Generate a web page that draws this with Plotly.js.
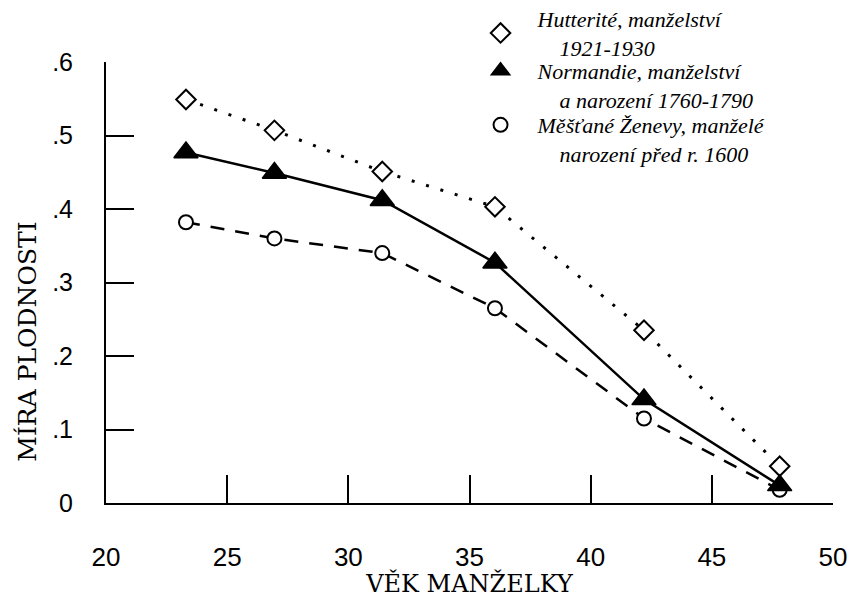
<!DOCTYPE html>
<html><head><meta charset="utf-8">
<script src="https://cdn.plot.ly/plotly-3.0.1.min.js"></script>
<style>body{margin:0;background:#fff}#chart{width:854px;height:598px}</style>
</head><body><div id="chart"></div>
<script>
// Data
const ages = [23.3, 26.95, 31.4, 36.05, 42.2, 47.8];
const hutterite = [0.549, 0.507, 0.451, 0.403, 0.235, 0.050];
const normandie = [0.477, 0.449, 0.412, 0.327, 0.141, 0.024];
const geneva = [0.382, 0.360, 0.340, 0.265, 0.115, 0.018];
const xTicks = [20, 25, 30, 35, 40, 45, 50];
const yTicks = [0, 0.1, 0.2, 0.3, 0.4, 0.5, 0.6];
const yTickText = ['0', '.1', '.2', '.3', '.4', '.5', '.6'];
const xTitle = 'VĚK MANŽELKY';
const yTitle = 'MÍRA PLODNOSTI';
const IND = '\u00a0\u00a0\u00a0\u00a0';
const nameHutterite = 'Hutterité, manželství<br>' + IND + '1921-1930';
const nameNormandie = 'Normandie, manželství<br>' + IND + 'a narození 1760-1790';
const nameGeneva = 'Měšťané Ženevy, manželé<br>' + IND + 'narození před r. 1600';

const diamondMarker = {symbol: 'diamond', size: 15, color: '#fff', line: {color: '#000', width: 2}};
const triMarker = {symbol: 'triangle-up', size: 21, color: '#000', line: {color: '#000', width: 1.5}};
const circMarker = {symbol: 'circle', size: 14, color: '#fff', line: {color: '#000', width: 2}};

const traces = [
  {x: ages, y: geneva, mode: 'lines+markers', showlegend: false,
   line: {color: '#000', width: 2.5, dash: '14px,11px'}, marker: circMarker},
  {x: ages, y: hutterite, mode: 'lines+markers', showlegend: false,
   line: {color: '#000', width: 3, dash: '3px,12px'}, marker: diamondMarker},
  {x: ages, y: normandie, mode: 'lines+markers', showlegend: false,
   line: {color: '#000', width: 2.5}, marker: triMarker},
  // legend entries
  {x: [null], y: [null], mode: 'markers', name: nameHutterite, legend: 'legend', marker: diamondMarker},
  {x: [null], y: [null], mode: 'markers', name: nameNormandie, legend: 'legend2', marker: triMarker},
  {x: [null], y: [null], mode: 'markers', name: nameGeneva, legend: 'legend3', marker: circMarker}
];

const legFont = {family: 'Liberation Serif', size: 22, style: 'italic', color: '#000'};
const legBase = {x: 0.4918, xanchor: 'left', yanchor: 'top', itemwidth: 64,
                 font: legFont, bgcolor: 'rgba(0,0,0,0)', borderwidth: 0};
const layout = {
  width: 854, height: 598,
  margin: {l: 106, r: 21, t: 62, b: 95, autoexpand: false},
  paper_bgcolor: '#fff', plot_bgcolor: '#fff',
  showlegend: true,
  legend: Object.assign({}, legBase, {y: 1.1455, valign: 'middle'}),
  legend2: Object.assign({}, legBase, {y: 1.0272, valign: 'top'}),
  legend3: Object.assign({}, legBase, {y: 0.9048, valign: 'top'}),
  xaxis: {range: [20, 50], tickvals: xTicks, ticks: 'inside', ticklen: 28, tickwidth: 2,
          tickcolor: '#000', showline: true, linewidth: 2, linecolor: '#000',
          showgrid: false, zeroline: false, fixedrange: true,
          tickfont: {family: 'Liberation Sans', size: 26, color: '#000'},
          ticklabelstandoff: 30,
          title: {text: xTitle, font: {family: 'DejaVu Serif', size: 24, color: '#000'}, standoff: 7}},
  yaxis: {range: [0, 0.6], tickvals: yTicks, ticktext: yTickText, ticks: 'inside', ticklen: 28, tickwidth: 2,
          tickcolor: '#000', showline: true, linewidth: 2, linecolor: '#000',
          showgrid: false, zeroline: false, fixedrange: true,
          tickfont: {family: 'Liberation Sans', size: 25, color: '#000'},
          ticklabelstandoff: 26},
  annotations: [
    {text: yTitle, textangle: -90, xref: 'paper', yref: 'paper', x: -0.108, y: 0.367,
     xanchor: 'center', yanchor: 'middle', showarrow: false,
     font: {family: 'DejaVu Serif', size: 25, color: '#000'}}
  ]
};

Plotly.newPlot('chart', traces, layout, {displayModeBar: false, staticPlot: true});
</script>
</body></html>
